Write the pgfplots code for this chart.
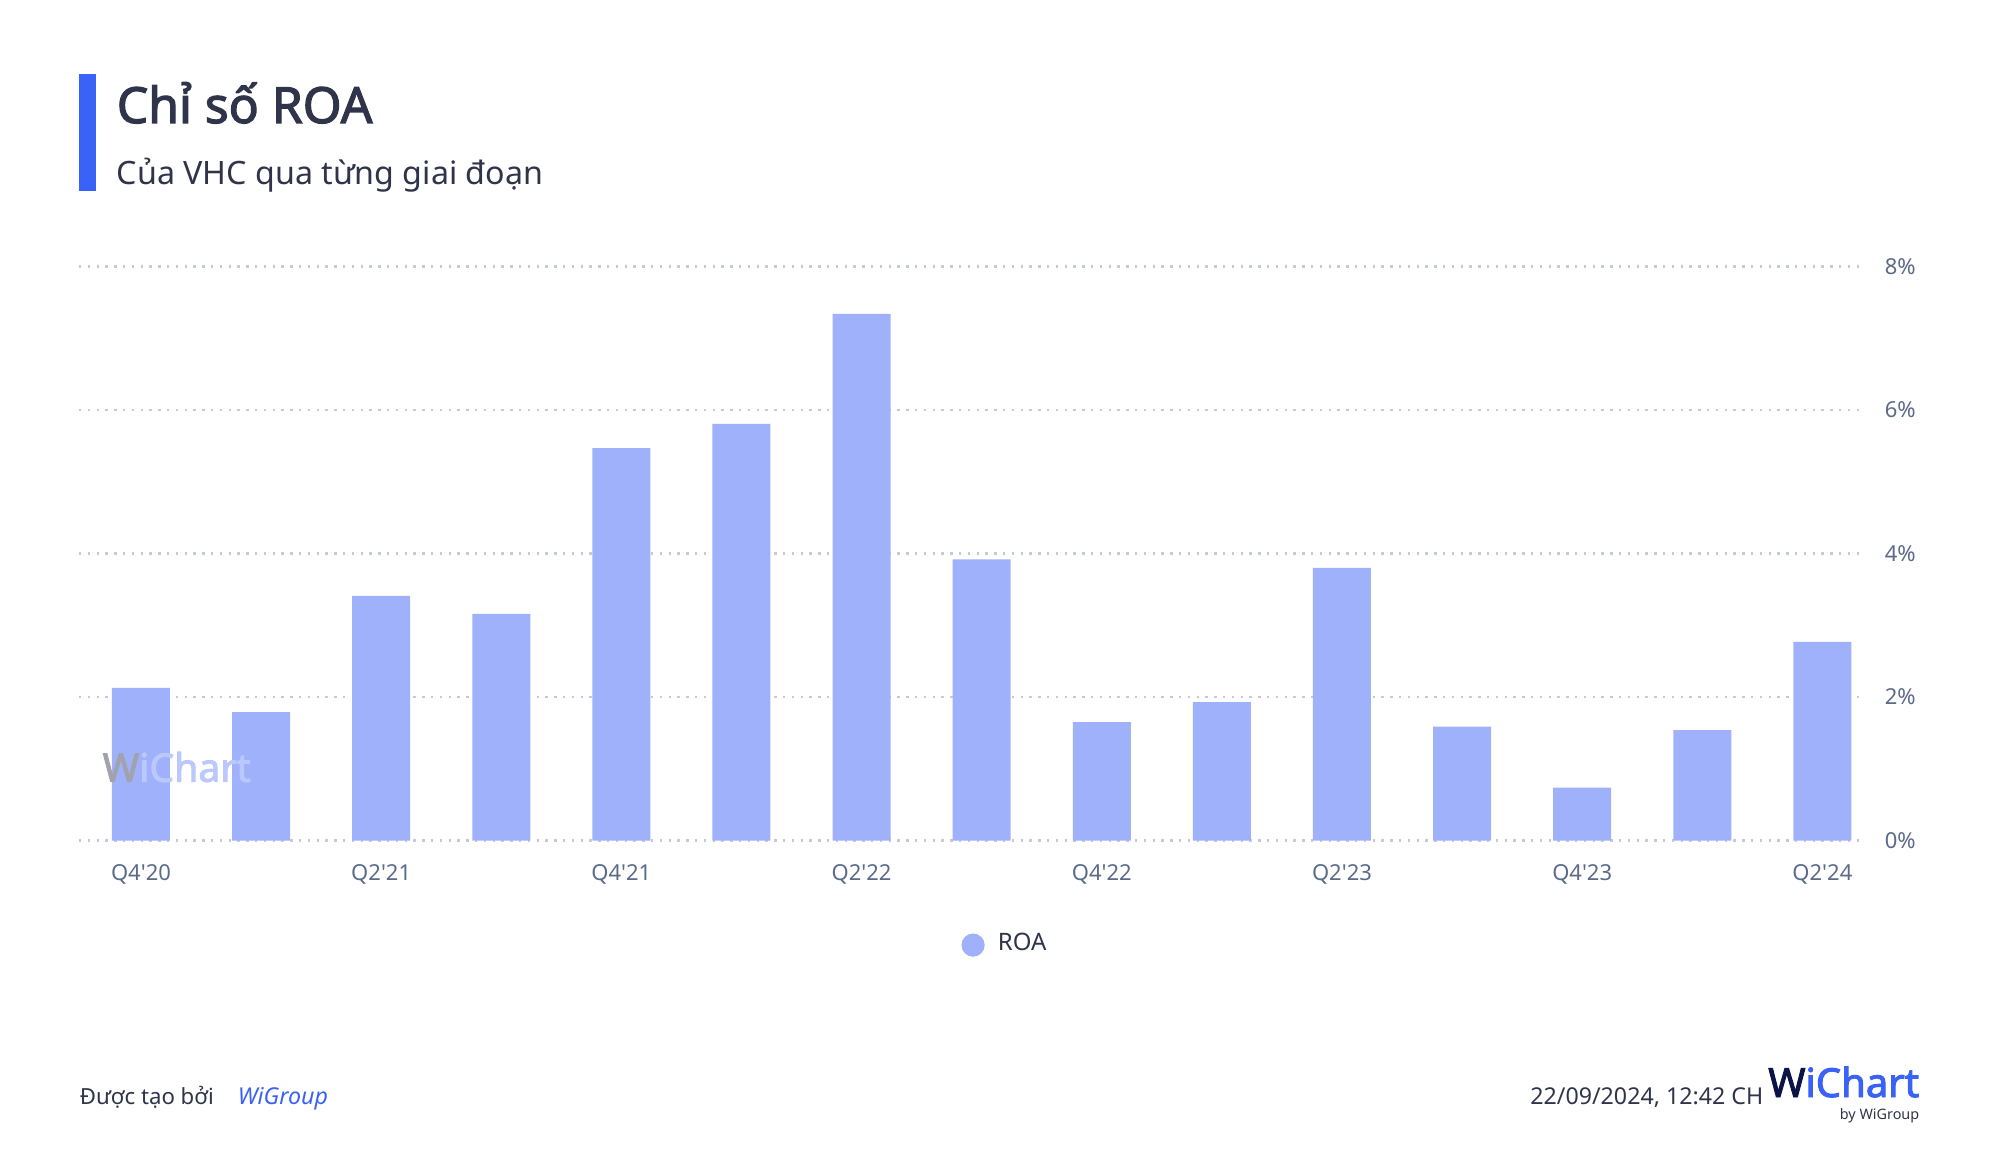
\documentclass[border=0pt]{standalone}
\usepackage{fontspec}
\setmainfont{Noto Sans}
\newfontfamily\bfnoto{Noto Sans}[FakeBold=2.4]
\usepackage{pgfplots}
\pgfplotsset{compat=1.18}
\definecolor{barc}{HTML}{9EB1FA}
\definecolor{titlec}{HTML}{30344A}
\definecolor{tickc}{HTML}{5C6A89}
\definecolor{gridc}{HTML}{C5CAD6}
\definecolor{accent}{HTML}{3B62F6}
\definecolor{navy}{HTML}{0B1447}
\definecolor{wmgray}{HTML}{6E7080}
\pgfplotstableread{
x y
0 2.13
1 1.79
2 3.41
3 3.16
4 5.47
5 5.81
6 7.34
7 3.92
8 1.65
9 1.93
10 3.80
11 1.59
12 0.74
13 1.54
14 2.77
}\roadata
\begin{document}
\begin{tikzpicture}[x=0.25pt,y=0.25pt]
\path[use as bounding box] (0,0) rectangle (2000,1159);
% title block
\fill[accent] (79,1085) rectangle (96,968);
\node[anchor=base west, inner sep=0pt, text=titlec, font=\bfnoto\fontsize{12.45}{14}\selectfont] at (116,1036) {Chỉ số ROA};
\node[anchor=base west, inner sep=0pt, text=titlec, font=\fontsize{8.05}{9}\selectfont] at (116,974) {Của VHC qua từng giai đoạn};
\begin{axis}[
  at={(19.75pt,79.6pt)}, anchor=south west,
  scale only axis, width=445.75pt, height=143.5pt,
  xmin=-0.516, xmax=14.33, ymin=0, ymax=8,
  ybar, bar width=14.5pt,
  axis line style={draw=none},
  major tick style={draw=none}, minor tick style={draw=none},
  ymajorgrids,
  major grid style={draw=gridc, line width=0.6pt, dash pattern=on 0.6pt off 1.6pt},
  ytick={0,2,4,6,8},
  yticklabels={0\%,2\%,4\%,6\%,8\%},
  yticklabel pos=right,
  yticklabel style={anchor=west, inner sep=0pt, xshift=5.5pt, font=\fontsize{5.5}{6}\selectfont, text=tickc},
  xtick={0,2,4,6,8,10,12,14},
  xticklabels={Q4\textquotesingle20,Q2\textquotesingle21,Q4\textquotesingle21,Q2\textquotesingle22,Q4\textquotesingle22,Q2\textquotesingle23,Q4\textquotesingle23,Q2\textquotesingle24},
  xticklabel style={anchor=base, inner sep=0pt, yshift=-5.6pt, font=\fontsize{5.5}{6}\selectfont, text=tickc},
  legend style={at={(0.521,-0.182)}, anchor=center, draw=none, fill=none, font=\fontsize{6}{7}\selectfont, text=titlec},
  legend image code/.code={\fill[barc] (0pt,0pt) circle (2.9pt); \path (4.2pt,0pt);},
]
\addplot[fill=barc, draw=none] table[x=x,y=y] {\roadata};
\addlegendentry{ROA}
\end{axis}
% watermark on top of bars
\node[anchor=west, inner sep=0pt, font=\bfnoto\fontsize{9.8}{11}\selectfont] at (102,392) {\textcolor{wmgray!65}{W}\textcolor{accent!35}{iChart}};
% footer
\node[anchor=base west, inner sep=0pt, text=titlec, font=\fontsize{5.55}{6}\selectfont] at (79,54.5) {Được tạo bởi};
\node[anchor=base west, inner sep=0pt, text=accent, font=\itshape\fontsize{5.8}{6}\selectfont] at (237,54.5) {WiGroup};
\node[anchor=base east, inner sep=0pt, text=titlec, font=\fontsize{5.8}{6}\selectfont] at (1764,54.5) {22/09/2024, 12:42 CH};
\node[anchor=base east, inner sep=0pt, font=\bfnoto\fontsize{10}{11}\selectfont] at (1920,62) {\textcolor{navy}{W}\textcolor{accent}{iChart}};
\node[anchor=base east, inner sep=0pt, text=titlec, font=\fontsize{3.6}{4}\selectfont] at (1920,40) {by WiGroup};
\end{tikzpicture}
\end{document}
